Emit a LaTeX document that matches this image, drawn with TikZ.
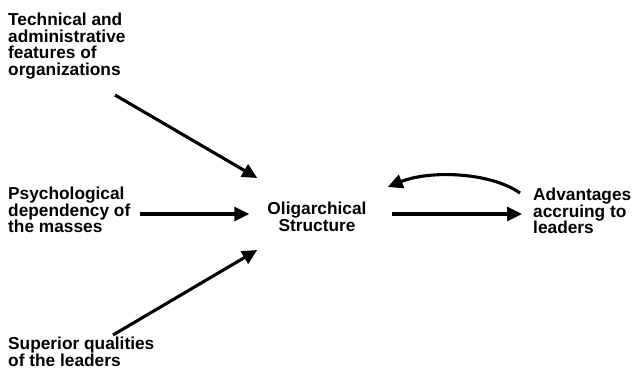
\documentclass[tikz,border=0pt]{standalone}
\usepackage{fontspec}
\setmainfont{Liberation Sans}
\usetikzlibrary{arrows.meta,calc}
\begin{document}
\begin{tikzpicture}[x=1pt,y=-1pt,
  lbl/.style={inner sep=0pt, font=\fontsize{17.3}{16.6}\selectfont\bfseries},
  arr/.style={line width=3.1pt, -{Triangle[length=15pt,width=14pt]}}]
\useasboundingbox[fill=white] (0,0) rectangle (634,374);
\node[lbl, anchor=north west, align=left] (tech) at (8,13) {Technical and\\administrative\\features of\\organizations};
\node[lbl, anchor=north west, align=left] (psych) at (8,187) {Psychological\\dependency of\\the masses};
\node[lbl, anchor=north west, align=left] (sup) at (8,337) {Superior qualities\\of the leaders};
\node[lbl, anchor=north, align=center] (olig) at (317,202) {Oligarchical\\Structure};
\node[lbl, anchor=north west, align=left] (adv) at (533,188) {Advantages\\accruing to\\leaders};
\draw[arr] ($(tech.north west)+(107,82)$) -- ($(olig.north west)+(-10,-24)$);
\draw[arr] ($(psych.north west)+(132,27)$) -- ($(olig.north west)+(-18,12)$);
\draw[arr] ($(sup.north west)+(105,-2)$) -- ($(olig.north west)+(-10,48)$);
\draw[arr] ($(olig.north east)+(25,12)$) -- ($(adv.north west)+(-11,26)$);
\draw[arr] ($(adv.north west)+(-13,5)$) .. controls ($(adv.north west)+(-43,-16)$) and ($(olig.north east)+(63,-32)$) .. ($(olig.north east)+(21,-15)$);
\end{tikzpicture}
\end{document}
